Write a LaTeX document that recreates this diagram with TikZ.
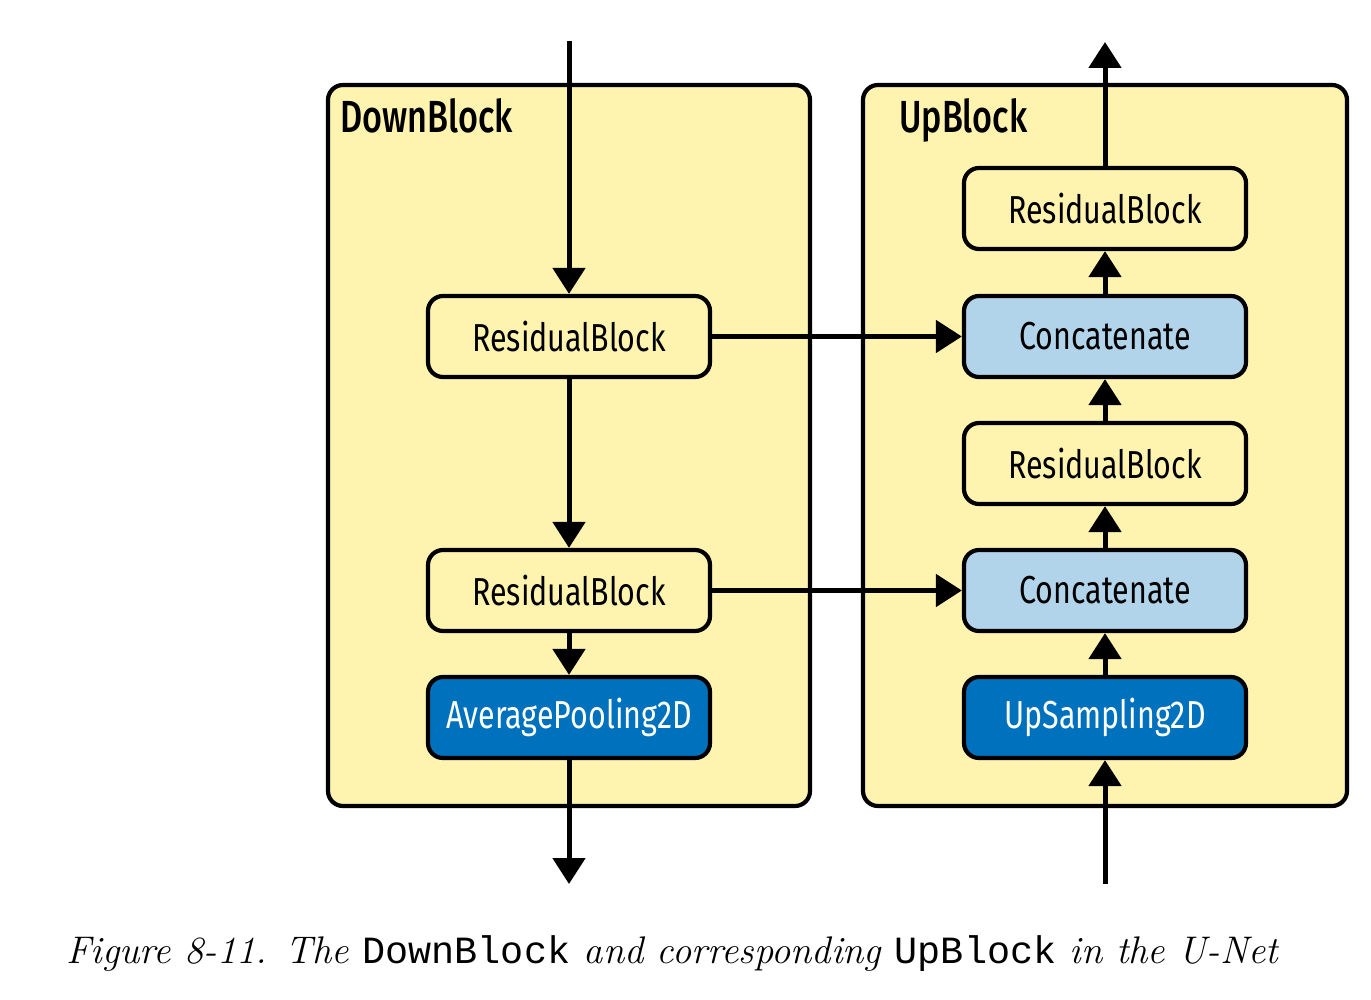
\documentclass[tikz,border=0pt]{standalone}
\usepackage{fontspec}
\setsansfont{Fira Sans}[FakeStretch=0.78]
\newfontfamily\titlefont{Fira Sans Medium}[FakeStretch=0.76]
\setmonofont{Liberation Mono}
\usetikzlibrary{arrows.meta}
\definecolor{byellow}{RGB}{255,243,176}
\definecolor{lblue}{RGB}{178,212,234}
\definecolor{dblue}{RGB}{0,113,188}
\begin{document}
\begin{tikzpicture}[x=1pt,y=-1pt,
  container/.style={draw=black,line width=4.2pt,fill=byellow,rounded corners=15pt},
  box/.style={draw=black,line width=4.2pt,rounded corners=15pt,minimum width=282pt,minimum height=81pt,inner sep=0pt,font=\sffamily\fontsize{39}{42}\selectfont},
  resbox/.style={box,fill=byellow},
  catbox/.style={box,fill=lblue},
  opbox/.style={box,fill=dblue,text=white},
  title/.style={font=\titlefont\fontsize{45}{48}\selectfont,anchor=base west,inner sep=0pt},
  flow/.style={line width=5pt,-{Triangle[width=32pt,length=26pt]}}
]
\useasboundingbox (0,0) rectangle (1371,1000);
% containers
\draw[container] (328,85) rectangle (810,806);
\draw[container] (863,85) rectangle (1347,806);
\node[title] (dl) at (340,133) {DownBlock};
\node[title] (ul) at (899,133) {UpBlock};
% nodes
\node[resbox] (drb1) at (569,336.5) {ResidualBlock};
\node[resbox] (drb2) at (569,590.5) {ResidualBlock};
\node[opbox] (avg) at (569,717.5) {AveragePooling2D};
\node[resbox] (urb2) at (1105,208.5) {ResidualBlock};
\node[catbox] (cat1) at (1105,336.5) {Concatenate};
\node[resbox] (urb1) at (1105,463.5) {ResidualBlock};
\node[catbox] (cat2) at (1105,590.5) {Concatenate};
\node[opbox] (ups) at (1105,717.5) {UpSampling2D};
\coordinate (din) at (569,41);
\coordinate (dout) at (569,884);
\coordinate (uin) at (1105,884);
\coordinate (uout) at (1105,42);
% connectors
\draw[flow] (din) -- (drb1.north);
\draw[flow] (drb1.south) -- (drb2.north);
\draw[flow] (drb2.south) -- (avg.north);
\draw[flow] (avg.south) -- (dout);
\draw[flow] (uin) -- (ups.south);
\draw[flow] (ups.north) -- (cat2.south);
\draw[flow] (cat2.north) -- (urb1.south);
\draw[flow] (urb1.north) -- (cat1.south);
\draw[flow] (cat1.north) -- (urb2.south);
\draw[flow] (urb2.north) -- (uout);
\draw[flow] (drb1.east) -- (cat1.west);
\draw[flow] (drb2.east) -- (cat2.west);
% caption
\node[anchor=base west,inner sep=0pt,font=\fontsize{38.5}{42}\selectfont\itshape] (cap) at (66,963)
  {Figure 8-11. The \texttt{\upshape DownBlock} and corresponding \texttt{\upshape UpBlock} in the U-Net};
\end{tikzpicture}
\end{document}
